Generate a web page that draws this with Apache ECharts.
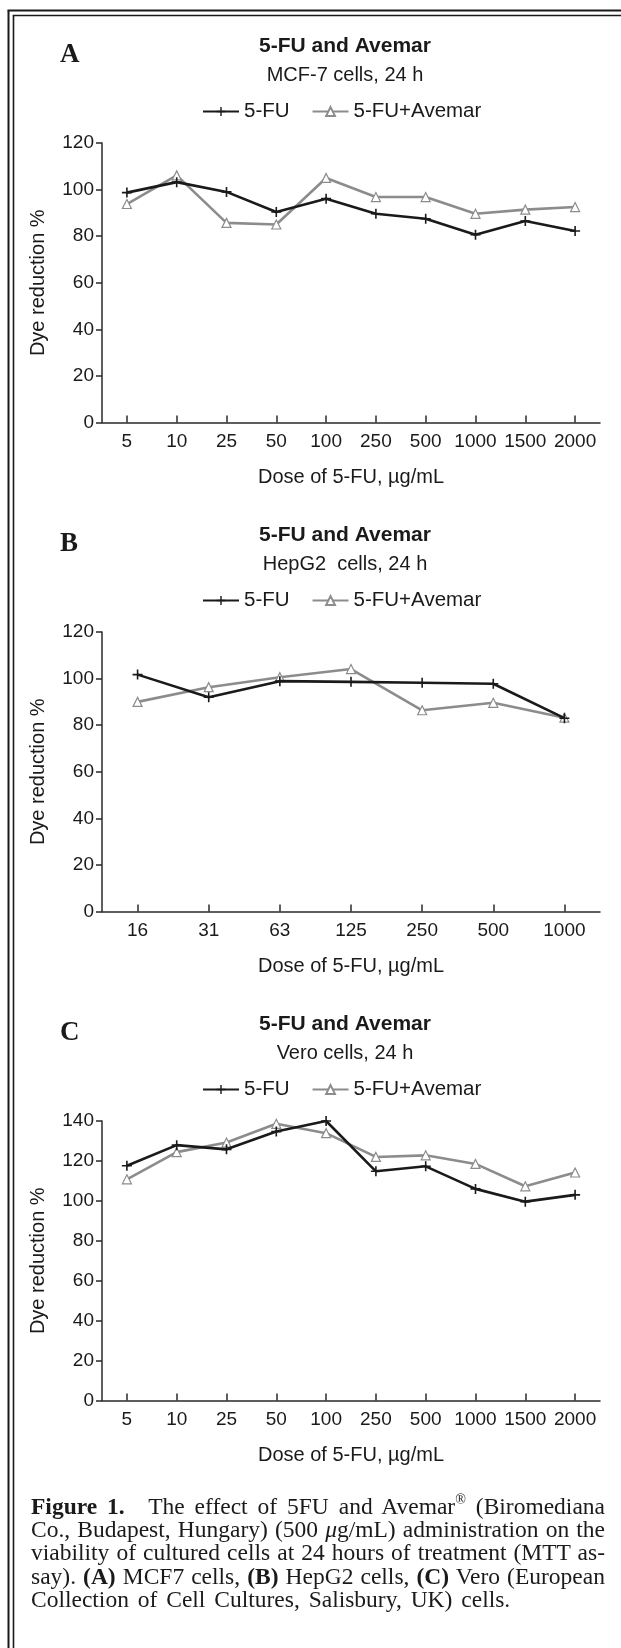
<!DOCTYPE html>
<html>
<head>
<meta charset="utf-8">
<script src="https://cdn.jsdelivr.net/npm/echarts@6/dist/echarts.min.js"></script>
<style>
html,body{margin:0;padding:0;background:#fff;}
#wrap{position:relative;width:621px;height:1648px;overflow:hidden;background:#fff;}
#chart{position:absolute;left:0;top:0;width:621px;height:1648px;}
#cap{position:absolute;left:31px;top:1495px;width:574px;font-family:"Liberation Serif","Times New Roman",serif;font-size:23.5px;line-height:23.2px;color:#1a1a1a;}
#cap div{white-space:nowrap;}
#cap .j{text-align:justify;text-align-last:justify;}
#cap .last{word-spacing:3px;}
#cap b{font-weight:bold;}
#cap sup{font-size:0.6em;line-height:0;vertical-align:0.7em;}
</style>
</head>
<body>
<div id="wrap">
<div id="chart"></div>
<div id="cap">
<div class="j"><b>Figure 1.</b>&emsp;The effect of 5FU and Avemar<sup>®</sup> (Biromediana</div>
<div class="j">Co., Budapest, Hungary) (500 <i>μ</i>g/mL) administration on the</div>
<div class="j">viability of cultured cells at 24 hours of treatment (MTT as-</div>
<div class="j">say). <b>(A)</b> MCF7 cells, <b>(B)</b> HepG2 cells, <b>(C)</b> Vero (European</div>
<div class="last">Collection of Cell Cultures, Salisbury, UK) cells.</div>
</div>
</div>
<script>
// ---------- data ----------
const dosesA = ['5', '10', '25', '50', '100', '250', '500', '1000', '1500', '2000'];
const fuA = [98.7, 103.2, 99.0, 90.4, 96.1, 89.6, 87.5, 80.6, 86.5, 82.2];
const fuAvA = [93.8, 106.1, 85.7, 85.0, 105.0, 96.8, 96.8, 89.6, 91.4, 92.5];

const dosesB = ['16', '31', '63', '125', '250', '500', '1000'];
const fuB = [101.7, 92.0, 98.9, 98.6, 98.2, 97.8, 83.0];
const fuAvB = [90.0, 96.3, 100.6, 104.1, 86.4, 89.6, 83.2];

const dosesC = ['5', '10', '25', '50', '100', '250', '500', '1000', '1500', '2000'];
const fuC = [117.6, 127.9, 125.8, 134.7, 140.0, 114.8, 117.3, 106.0, 99.6, 103.0];
const fuAvC = [110.8, 124.4, 129.2, 138.6, 133.9, 122.0, 122.8, 118.5, 107.3, 114.2];

const yTicksAB = {min: 0, max: 120, interval: 20};
const yTicksC = {min: 0, max: 140, interval: 20};

const titles = ['5-FU and Avemar', '5-FU and Avemar', '5-FU and Avemar'];
const subtitles = ['MCF-7 cells, 24 h', 'HepG2  cells, 24 h', 'Vero cells, 24 h'];
const panelLetters = ['A', 'B', 'C'];
const seriesNames = ['5-FU', '5-FU+Avemar'];
const xName = 'Dose of 5-FU, µg/mL';
const yName = 'Dye reduction %';

// ---------- layout ----------
const SANS = '"Liberation Sans", Arial, Helvetica, sans-serif';
const SERIF = '"Liberation Serif", "Times New Roman", serif';
const INK = '#1a1a1a';
const AX = '#2a2a2a';
const GRAY = '#8c8c8c';
const panelOffset = [0, 489, 978];
const gridTop0 = 143, gridH = 279.5, gridLeft = 102, gridW = 498;
const plusPath = 'path://M4.2,0h1.6v4.2h4.2v1.6h-4.2v4.2h-1.6v-4.2h-4.2v-1.6h4.2z';

const panels = [
  {cats: dosesA, a: fuA, b: fuAvA, y: yTicksAB},
  {cats: dosesB, a: fuB, b: fuAvB, y: yTicksAB},
  {cats: dosesC, a: fuC, b: fuAvC, y: yTicksC}
];

const grids = [], xAxes = [], yAxes = [], series = [], legends = [], graphics = [];

panels.forEach((p, i) => {
  const off = panelOffset[i];
  grids.push({left: gridLeft, width: gridW, top: gridTop0 + off, height: gridH, containLabel: false});
  xAxes.push({
    type: 'category', gridIndex: i, data: p.cats, boundaryGap: true,
    axisLine: {show: true, lineStyle: {color: AX, width: 1.5}},
    axisTick: {show: true, inside: true, alignWithLabel: true, length: 7, lineStyle: {color: AX, width: 1.5}},
    axisLabel: {interval: 0, color: INK, fontFamily: SANS, fontSize: 19, margin: 10},
    splitLine: {show: false},
    name: xName, nameLocation: 'middle', nameGap: 45,
    nameTextStyle: {color: INK, fontFamily: SANS, fontSize: 20}
  });
  yAxes.push({
    type: 'value', gridIndex: i, min: p.y.min, max: p.y.max, interval: p.y.interval,
    axisLine: {show: true, lineStyle: {color: AX, width: 1.5}},
    axisTick: {show: true, inside: false, length: 6, lineStyle: {color: AX, width: 1.5}},
    axisLabel: {color: INK, fontFamily: SANS, fontSize: 19, margin: 8},
    splitLine: {show: false},
    name: yName, nameLocation: 'middle', nameGap: 54,
    nameTextStyle: {color: INK, fontFamily: SANS, fontSize: 20}
  });
  series.push({
    name: seriesNames[1], type: 'line', xAxisIndex: i, yAxisIndex: i, data: p.b,
    symbol: 'triangle', symbolSize: 9, showSymbol: true,
    lineStyle: {color: GRAY, width: 2.6},
    itemStyle: {color: '#fff', borderColor: GRAY, borderWidth: 1.2},
    emphasis: {disabled: true}, z: 2
  });
  series.push({
    name: seriesNames[0], type: 'line', xAxisIndex: i, yAxisIndex: i, data: p.a,
    symbol: plusPath, symbolSize: 10, showSymbol: true,
    lineStyle: {color: INK, width: 2.6},
    itemStyle: {color: INK, borderWidth: 0},
    emphasis: {disabled: true}, z: 3
  });
  legends.push({
    left: 202, top: 101 + off, orient: 'horizontal', padding: 0,
    itemWidth: 36, itemHeight: 11, itemGap: 22, selectedMode: false,
    data: seriesNames,
    textStyle: {color: INK, fontFamily: SANS, fontSize: 20.5}
  });
  graphics.push({
    type: 'text', x: 345, y: 46 + off,
    style: {text: titles[i], align: 'center', verticalAlign: 'middle', fill: INK,
      font: 'bold 21px ' + SANS}
  });
  graphics.push({
    type: 'text', x: 345, y: 75 + off,
    style: {text: subtitles[i], align: 'center', verticalAlign: 'middle', fill: INK,
      font: '20px ' + SANS}
  });
  graphics.push({
    type: 'text', x: 60, y: 55 + off,
    style: {text: panelLetters[i], align: 'left', verticalAlign: 'middle', fill: INK,
      font: 'bold 27px ' + SERIF}
  });
});

// frame (double rule)
graphics.push({type: 'line', shape: {x1: 8.5, y1: 10.5, x2: 8.5, y2: 1700}, style: {stroke: INK, lineWidth: 2}});
graphics.push({type: 'line', shape: {x1: 7.5, y1: 10.5, x2: 700, y2: 10.5}, style: {stroke: INK, lineWidth: 2}});
graphics.push({type: 'line', shape: {x1: 13.5, y1: 15.5, x2: 13.5, y2: 1700}, style: {stroke: INK, lineWidth: 1.6}});
graphics.push({type: 'line', shape: {x1: 12.7, y1: 15.5, x2: 700, y2: 15.5}, style: {stroke: INK, lineWidth: 1.6}});

const chart = echarts.init(document.getElementById('chart'), null, {renderer: 'canvas', width: 621, height: 1648});
chart.setOption({
  animation: false,
  backgroundColor: '#fff',
  tooltip: {show: false},
  grid: grids,
  xAxis: xAxes,
  yAxis: yAxes,
  legend: legends,
  series: series,
  graphic: graphics
});
</script>
</body>
</html>
